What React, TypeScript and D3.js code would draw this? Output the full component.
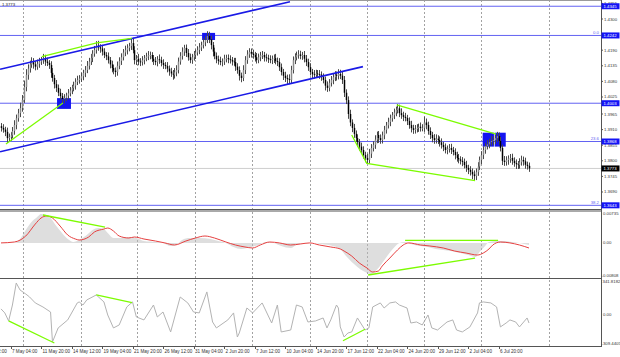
import React from "react";
import * as d3 from "d3";

// ---------------- data ----------------
// H4 closes, in pips above 1.3000 (price = 1.3 + pips / 10000)
const closePips = [
  916, 910, 902, 880, 884, 890, 905, 926, 950, 968,
  986, 1015, 1060, 1103, 1125, 1140, 1148, 1140, 1132, 1142,
  1150, 1155, 1162, 1150, 1145, 1138, 1110, 1092, 1070, 1057,
  1040, 1028, 1018, 1022, 1030, 1038, 1048, 1057, 1065, 1078,
  1085, 1090, 1098, 1110, 1120, 1135, 1150, 1162, 1178, 1191,
  1206, 1200, 1196, 1185, 1173, 1168, 1155, 1140, 1127, 1118,
  1113, 1135, 1152, 1165, 1182, 1190, 1198, 1205, 1215, 1190,
  1155, 1160, 1150, 1148, 1155, 1162, 1168, 1172, 1173, 1160,
  1152, 1148, 1158, 1155, 1145, 1138, 1134, 1125, 1115, 1108,
  1103, 1112, 1120, 1150, 1170, 1185, 1198, 1180, 1165, 1155,
  1165, 1173, 1182, 1191, 1200, 1208, 1218, 1226, 1240, 1228,
  1208, 1185, 1170, 1158, 1152, 1148, 1150, 1160, 1162, 1158,
  1155, 1150, 1148, 1132, 1120, 1100, 1092, 1120, 1155, 1175,
  1184, 1178, 1173, 1165, 1155, 1165, 1172, 1173, 1165, 1162,
  1158, 1155, 1160, 1162, 1152, 1148, 1130, 1113, 1100, 1092,
  1088, 1085, 1120, 1155, 1165, 1173, 1175, 1170, 1173, 1160,
  1148, 1130, 1113, 1105, 1103, 1108, 1106, 1104, 1095, 1085,
  1065, 1057, 1075, 1085, 1095, 1103, 1100, 1106, 1100, 1085,
  1040, 1014, 965, 935, 916, 895, 880, 866, 850, 838,
  820, 810, 803, 825, 845, 856, 875, 891, 880, 873,
  890, 909, 925, 937, 950, 961, 970, 979, 985, 968,
  961, 955, 951, 940, 926, 915, 909, 912, 916, 920,
  916, 916, 935, 926, 905, 891, 880, 873, 878, 873,
  865, 856, 848, 838, 842, 845, 838, 831, 820, 810,
  805, 800, 796, 785, 775, 768, 761, 752, 746, 760,
  780, 803, 820, 838, 852, 858, 866, 870, 873, 880,
  887, 870, 845, 800, 796, 803, 808, 810, 800, 792,
  788, 785, 795, 803, 798, 786, 782, 773,
];
const firstOpenPips = 922;
const upWickPips = [
  11, 13, 10, 15, 12, 11, 14, 17, 13, 15, 19, 17, 23, 20, 15, 13, 17, 14, 12, 15,
  13, 11, 15, 12, 14, 10, 13, 17, 11, 15, 12, 14, 11, 13, 10, 15, 12, 11, 14, 13,
  15, 12, 13, 11, 14, 17, 13, 15, 12, 14, 16, 17, 11, 13, 12, 10, 14, 11, 13, 12,
  11, 15, 13, 14, 12, 16, 13, 11, 15, 19, 14, 13, 17, 12, 14, 11, 13, 15, 12, 10,
  13, 14, 11, 17, 12, 13, 10, 14, 11, 13, 12, 15, 17, 14, 13, 15, 11, 12, 14, 13,
  12, 14, 11, 13, 15, 12, 14, 13, 17, 15, 13, 11, 14, 12, 13, 15, 11, 14, 12, 13,
  14, 11, 13, 15, 12, 13, 11, 17, 14, 15, 13, 12, 14, 11, 15, 13, 12, 14, 11, 13,
  12, 14, 11, 13, 15, 12, 14, 13, 11, 14, 12, 17, 15, 13, 14, 12, 15, 13, 11, 14,
  13, 12, 14, 11, 15, 13, 12, 14, 11, 13, 12, 15, 13, 14, 11, 13, 12, 17, 15, 13,
  14, 12, 13, 15, 11, 14, 12, 13, 11, 14, 13, 12, 15, 17, 14, 13, 15, 12, 14, 13,
  13, 14, 12, 15, 13, 11, 14, 12, 15, 13, 17, 12, 14, 11, 13, 15, 12, 14, 13, 11,
  15, 13, 21, 14, 12, 13, 11, 14, 15, 12, 13, 14, 11, 13, 12, 14, 15, 11, 13, 12,
  14, 11, 13, 12, 15, 11, 13, 12, 14, 13, 15, 12, 14, 13, 11, 15, 12, 17, 14, 13,
  15, 13, 14, 12, 17, 13, 11, 14, 15, 12, 13, 11, 14, 15, 12, 13, 11, 12,
];
const downWickPips = [
  13, 11, 15, 17, 12, 14, 11, 13, 15, 12, 14, 13, 11, 15, 17, 14, 12, 15, 13, 11,
  14, 12, 13, 15, 11, 14, 17, 13, 15, 14, 12, 13, 17, 15, 12, 14, 11, 13, 12, 14,
  11, 13, 12, 14, 15, 11, 13, 12, 14, 11, 13, 12, 15, 14, 11, 13, 12, 14, 15, 13,
  17, 13, 12, 14, 11, 13, 15, 12, 14, 11, 15, 17, 13, 14, 12, 15, 11, 13, 14, 12,
  14, 11, 15, 13, 12, 14, 11, 13, 15, 12, 17, 13, 14, 12, 11, 13, 15, 14, 12, 11,
  13, 12, 14, 11, 15, 13, 12, 14, 11, 13, 15, 17, 12, 14, 13, 11, 15, 12, 13, 14,
  12, 14, 13, 15, 13, 17, 15, 11, 14, 13, 12, 14, 13, 15, 12, 11, 14, 13, 15, 12,
  13, 11, 14, 15, 12, 14, 13, 12, 15, 14, 17, 15, 13, 12, 14, 11, 13, 12, 14, 13,
  14, 13, 12, 15, 13, 11, 14, 15, 13, 12, 17, 14, 12, 13, 15, 14, 17, 13, 12, 14,
  15, 14, 17, 13, 15, 14, 13, 15, 14, 13, 12, 15, 14, 13, 15, 12, 14, 13, 17, 13,
  12, 14, 13, 11, 15, 12, 14, 13, 12, 14, 13, 15, 12, 14, 13, 15, 14, 13, 12, 14,
  13, 12, 14, 15, 13, 14, 15, 13, 12, 14, 15, 13, 14, 12, 15, 13, 14, 12, 15, 13,
  14, 13, 15, 12, 14, 15, 13, 17, 15, 14, 13, 12, 15, 14, 13, 12, 14, 13, 15, 14,
  13, 14, 12, 15, 14, 13, 17, 15, 14, 13, 17, 14, 13, 12, 15, 14, 13, 12,
];

const priceTicks = [1.4355, 1.43, 1.4245, 1.419, 1.4135, 1.408, 1.4025, 1.3965, 1.391, 1.3855, 1.38, 1.3745, 1.369];
const levelPrices = [1.4345, 1.4242, 1.4003, 1.3868, 1.3643];
const fibPrices = [1.4242, 1.3868, 1.3643];
const fibNames = ["0.0", "23.6", "38.2"];
const currentPrice = 1.3773;

const timeLabels = [
  "4 May 12:00", "7 May 04:00", "11 May 20:00", "14 May 12:00", "19 May 04:00", "21 May 20:00",
  "26 May 12:00", "31 May 04:00", "2 Jun 20:00", "7 Jun 12:00", "10 Jun 04:00", "14 Jun 20:00",
  "17 Jun 12:00", "22 Jun 04:00", "24 Jun 20:00", "29 Jun 12:00", "2 Jul 04:00", "6 Jul 20:00",
];
const timeLabelBars = [-11, 5, 21, 37, 53, 69, 85, 101, 117, 133, 149, 165, 181, 197, 213, 229, 245, 261];
const weekSeparatorBars = [11.4, 41.9, 71.5, 101.8, 131.5, 162, 191.9, 222, 251.8, 287.5];

// drawn objects: [barIndex, price]
const channelUpper: [number, number][] = [[-0.5, 1.4123], [151.6, 1.4361]];
const channelLower: [number, number][] = [[-0.5, 1.3832], [189.9, 1.4132]];
const priceGreen: [number, number][][] = [
  [[2.6, 1.3859], [32.5, 1.4004]],
  [[21.4, 1.4167], [50.2, 1.4216], [68.6, 1.4232]],
  [[184, 1.3891], [191.9, 1.3791], [248.7, 1.373]],
  [[207.6, 1.3997], [259.7, 1.3894]],
];
// [barFrom, barTo, priceTop, priceBottom]
const blueBoxes: [number, number, number, number][] = [
  [29.4, 36.7, 1.4021, 1.3983],
  [105.5, 112.3, 1.4251, 1.4226],
  [252.7, 258.6, 1.3899, 1.385],
  [259.0, 264.8, 1.3899, 1.385],
];

// MACD (main = histogram, signal = red), values in units of 1e-5: [bar, value]
const macdMain: [number, number][] = [
  [0, 0], [7, 2], [10, 90], [13, 297], [16, 481], [19, 596], [21, 666], [24, 643], [26, 573], [29, 389],
  [32, 228], [35, 90], [38, 21], [41, 67], [45, 182], [48, 297], [51, 343], [54, 320], [56, 228], [59, 113],
  [62, 113], [67, 136], [71, 113], [75, 44], [81, 21], [85, 0], [89, -71], [92, -48], [95, 67], [99, 113],
  [104, 113], [110, 90], [114, 44], [118, 0], [122, -94], [126, -140], [131, -94], [135, -48], [139, 21], [143, 0],
  [147, -71], [152, -117], [155, -48], [159, 0], [163, 0], [168, -25], [174, -71], [178, -140], [181, -302], [184, -440],
  [187, -555], [190, -648], [194, -716], [197, -624], [200, -463], [203, -279], [206, -117], [209, 0], [212, 21], [215, -25],
  [220, -71], [224, -94], [228, -140], [232, -163], [236, -186], [241, -233], [245, -279], [249, -324], [251, -210], [254, -71],
  [256, 21], [260, 44], [264, 44], [268, 21], [272, 0], [277, -48],
];
const macdSignal: [number, number][] = [
  [0, 0], [7, 21], [13, 159], [18, 435], [21, 573], [24, 620], [27, 573], [31, 389], [35, 182], [39, 90],
  [41, 67], [46, 136], [49, 251], [54, 320], [56, 343], [59, 274], [62, 159], [67, 113], [70, 136], [75, 90],
  [81, 44], [86, 0], [91, -48], [97, 44], [102, 113], [107, 159], [112, 113], [118, 21], [123, -48], [128, -94],
  [132, -117], [136, -48], [141, 21], [146, 0], [152, -48], [157, -25], [162, 0], [167, -48], [173, -94], [178, -140],
  [180, -187], [184, -302], [188, -463], [192, -578], [195, -670], [198, -647], [200, -532], [204, -348], [208, -163], [211, -48],
  [214, 0], [220, -48], [225, -71], [232, -117], [238, -187], [244, -233], [250, -279], [253, -233], [256, -140], [258, -48],
  [262, 21], [267, 0], [272, -48], [277, -117],
];
const macdMax = 0.00735;
const macdMin = -0.00808;
const macdGreen: [number, number][][] = [
  [[22, 643], [54.6, 366]],
  [[192.6, -739], [248.7, -348]],
  [[212, 60], [260.8, 60]],
];

// CCI: [bar, value]
const cci: [number, number][] = [
  [0, 51], [2, 12], [4, -66], [6, 89], [8, 303], [10, 235], [13, 196], [15, 167], [18, 109], [22, 70],
  [26, 21], [27, -270], [30, -134], [35, -56], [40, 109], [41, 119], [43, 89], [45, 138], [50, 187], [54, 119],
  [56, -8], [59, -134], [62, -105], [66, 70], [69, 119], [71, -27], [75, -56], [80, 89], [82, -27], [85, 21],
  [89, -173], [94, 167], [98, 109], [101, 21], [104, 12], [108, 216], [111, -76], [113, -134], [119, -56], [122, 12],
  [124, -222], [125, -183], [129, 60], [132, 12], [137, 109], [142, -86], [145, 89], [147, -173], [152, -154], [155, 89],
  [158, 70], [161, -76], [165, -66], [169, -37], [171, -134], [173, -56], [176, 89], [177, 60], [178, -124], [180, -222],
  [182, -183], [184, -173], [187, -37], [191, -154], [193, -134], [195, 70], [199, 109], [201, 60], [204, 109], [207, 119],
  [209, 89], [213, 60], [215, -86], [218, -76], [221, -105], [224, -8], [226, -134], [229, -154], [234, -76], [237, -56],
  [239, -154], [242, -173], [246, -124], [250, 12], [251, 109], [253, 119], [257, 109], [260, 70], [262, -124], [265, -86],
  [267, -56], [270, -76], [272, -124], [276, -37], [277, -86],
];
const cciMax = 341.8182;
const cciMin = -309.4405;
const cciGreen: [number, number][][] = [
  [[4, -66], [28, -280]],
  [[50, 187], [68.7, 112]],
  [[179.4, -258], [191, -147]],
];

// ---------------- chart ----------------
const FONT = "Liberation Sans, Arial, sans-serif";

export default function App() {
  const W = 620, H = 357;
  const R = 601; // right edge of plotting area
  const n = closePips.length;
  const x = d3.scaleLinear().domain([0, n - 1]).range([1, 529]);
  const yP = d3.scaleLinear().domain([1.363, 1.4367]).range([209, 0]);
  const yM = d3.scaleLinear().domain([macdMin, macdMax]).range([278, 211]);
  const yC = d3.scaleLinear().domain([cciMin, cciMax]).range([346, 279]);

  const px = (p: number) => 1.3 + p / 10000;
  const candles = closePips.map((c, i) => {
    const close = px(c);
    const open = px(i > 0 ? closePips[i - 1] : firstOpenPips);
    const high = Math.max(open, close) + (upWickPips[i] ?? 10) / 10000;
    const low = Math.min(open, close) - (downWickPips[i] ?? 10) / 10000;
    return { i, open, close, high, low };
  });

  const priceLine = d3.line<[number, number]>().x((d) => x(d[0])).y((d) => yP(d[1]));
  const macdArea = d3
    .area<[number, number]>()
    .x((d) => x(d[0]))
    .y0(yM(0))
    .y1((d) => yM(d[1] * 1e-5))
    .curve(d3.curveMonotoneX);
  const macdLine = d3
    .line<[number, number]>()
    .x((d) => x(d[0]))
    .y((d) => yM(d[1] * 1e-5))
    .curve(d3.curveMonotoneX);
  const macdStraight = d3.line<[number, number]>().x((d) => x(d[0])).y((d) => yM(d[1] * 1e-5));
  const cciLine = d3.line<[number, number]>().x((d) => x(d[0])).y((d) => yC(d[1]));

  const green = "#7cfc00";
  const levelBlue = "#6262f2";
  const fs = 4.3;

  return (
    <div style={{ position: "absolute", left: 0, top: 0 }}>
      <svg width={W} height={H} style={{ display: "block", background: "#fff" }} fontFamily={FONT}>
        <defs>
          <clipPath id="mainClip">
            <rect x={0} y={0} width={R} height={209} />
          </clipPath>
          <clipPath id="macdClip">
            <rect x={0} y={211} width={R} height={67} />
          </clipPath>
          <clipPath id="cciClip">
            <rect x={0} y={279} width={R} height={67} />
          </clipPath>
          <pattern id="histStripes" patternUnits="userSpaceOnUse" width={2} height={10} x={0.5} y={0}>
            <rect x={0} y={0} width={1} height={10} fill="#bcbcbc" />
          </pattern>
        </defs>

        {/* period separators */}
        {weekSeparatorBars.map((b, i) => (
          <line
            key={"sep" + i}
            x1={Math.round(x(b)) + 0.5}
            x2={Math.round(x(b)) + 0.5}
            y1={0}
            y2={346}
            stroke="#8a8a8a"
            strokeWidth={0.8}
            strokeDasharray="2,2"
          />
        ))}

        {/* ---------- main price panel ---------- */}
        <g clipPath="url(#mainClip)">
          <line x1={0} x2={R} y1={yP(currentPrice)} y2={yP(currentPrice)} stroke="#cfcfcf" strokeWidth={1} />
          {levelPrices.map((p, i) => (
            <line key={"lv" + i} x1={0} x2={R} y1={yP(p)} y2={yP(p)} stroke={levelBlue} strokeWidth={1} />
          ))}
          {blueBoxes.map((b, i) => (
            <rect
              key={"bx" + i}
              x={x(b[0])}
              y={yP(b[2])}
              width={x(b[1]) - x(b[0])}
              height={yP(b[3]) - yP(b[2])}
              fill="#1414f0"
            />
          ))}
          {candles.map((d) => {
            const cx = Math.round(x(d.i)) + 0.5;
            const top = yP(Math.max(d.open, d.close));
            const bot = yP(Math.min(d.open, d.close));
            const bull = d.close >= d.open;
            return (
              <g key={"c" + d.i}>
                <line x1={cx} x2={cx} y1={yP(d.high)} y2={yP(d.low)} stroke="#4a4a4a" strokeWidth={1} />
                <rect
                  x={cx - 0.75}
                  y={top}
                  width={1.5}
                  height={Math.max(0.8, bot - top)}
                  fill={bull ? "#8a8a8a" : "#000"}
                />
              </g>
            );
          })}
          <path d={priceLine(channelUpper) || ""} fill="none" stroke="#1a1ae6" strokeWidth={1.6} />
          <path d={priceLine(channelLower) || ""} fill="none" stroke="#1a1ae6" strokeWidth={1.6} />
          {priceGreen.map((g, i) => (
            <path key={"pg" + i} d={priceLine(g) || ""} fill="none" stroke={green} strokeWidth={1.3} />
          ))}
          {fibPrices.map((p, i) => (
            <text key={"fb" + i} x={599} y={yP(p) - 1.2} fontSize={fs} fill={levelBlue} textAnchor="end">
              {fibNames[i]}
            </text>
          ))}
        </g>
        <text x={2} y={6} fontSize={fs} fill="#222">
          {currentPrice.toFixed(4)}
        </text>

        {/* ---------- MACD panel ---------- */}
        <g clipPath="url(#macdClip)">
          <path d={macdArea(macdMain) || ""} fill="url(#histStripes)" />
          <path d={macdLine(macdSignal) || ""} fill="none" stroke="#e64040" strokeWidth={1} />
          {macdGreen.map((g, i) => (
            <path key={"mg" + i} d={macdStraight(g) || ""} fill="none" stroke={green} strokeWidth={1.3} />
          ))}
        </g>

        {/* ---------- CCI panel ---------- */}
        <g clipPath="url(#cciClip)">
          <path d={cciLine(cci) || ""} fill="none" stroke="#b3b3b3" strokeWidth={1} />
          {cciGreen.map((g, i) => (
            <path
              key={"cg" + i}
              d={d3.line<[number, number]>().x((d) => x(d[0])).y((d) => yC(d[1]))(g) || ""}
              fill="none"
              stroke={green}
              strokeWidth={1.3}
            />
          ))}
        </g>

        {/* panel frames */}
        <line x1={0} x2={R} y1={0.5} y2={0.5} stroke="#9a9a9a" strokeWidth={1} />
        <line x1={0} x2={R} y1={209.5} y2={209.5} stroke="#555" strokeWidth={1} />
        <line x1={0} x2={R} y1={211} y2={211} stroke="#555" strokeWidth={1} />
        <line x1={0} x2={R} y1={278.5} y2={278.5} stroke="#555" strokeWidth={1.2} />
        <line x1={0} x2={R} y1={346.5} y2={346.5} stroke="#555" strokeWidth={1} />
        <line x1={R + 0.5} x2={R + 0.5} y1={0} y2={347} stroke="#555" strokeWidth={1} />

        {/* price axis */}
        {priceTicks.map((p, i) => (
          <g key={"pt" + i}>
            <line x1={R} x2={R + 2} y1={yP(p)} y2={yP(p)} stroke="#555" />
            <text x={R + 3} y={yP(p) + 1.5} fontSize={fs} fill="#333">
              {p.toFixed(4)}
            </text>
          </g>
        ))}
        {levelPrices.map((p, i) => (
          <g key={"lb" + i}>
            <rect x={R + 0.5} y={yP(p) - 3} width={18} height={6} fill="#1414f5" />
            <text x={R + 2.5} y={yP(p) + 1.5} fontSize={fs} fill="#fff">
              {p.toFixed(4)}
            </text>
          </g>
        ))}
        <rect x={R + 0.5} y={yP(currentPrice) - 3} width={18} height={6} fill="#000" />
        <text x={R + 2.5} y={yP(currentPrice) + 1.5} fontSize={fs} fill="#fff">
          {currentPrice.toFixed(4)}
        </text>

        {/* MACD axis */}
        <text x={R + 2} y={yM(macdMax) + 4.4} fontSize={fs} fill="#333">
          {macdMax.toFixed(5)}
        </text>
        <text x={R + 2} y={yM(0) + 1.5} fontSize={fs} fill="#333">
          0.00
        </text>
        <text x={R + 0.5} y={yM(macdMin) - 1.5} fontSize={fs} fill="#333">
          {macdMin.toFixed(5)}
        </text>

        {/* CCI axis */}
        <text x={R + 1.5} y={yC(cciMax) + 4} fontSize={fs} fill="#333">
          {cciMax.toFixed(4)}
        </text>
        <text x={R + 2} y={yC(0) + 1.5} fontSize={fs} fill="#333">
          0.00
        </text>
        <text x={R + 0.5} y={yC(cciMin) - 1.5} fontSize={fs} fill="#333">
          {cciMin.toFixed(4)}
        </text>

        {/* time axis */}
        {timeLabels.map((t, i) => (
          <g key={"tl" + i}>
            <line
              x1={Math.round(x(timeLabelBars[i])) + 0.5}
              x2={Math.round(x(timeLabelBars[i])) + 0.5}
              y1={346}
              y2={349}
              stroke="#555"
            />
            <text x={x(timeLabelBars[i]) + 1.5} y={353} fontSize={4.6} fill="#333">
              {t}
            </text>
          </g>
        ))}
      </svg>
    </div>
  );
}
